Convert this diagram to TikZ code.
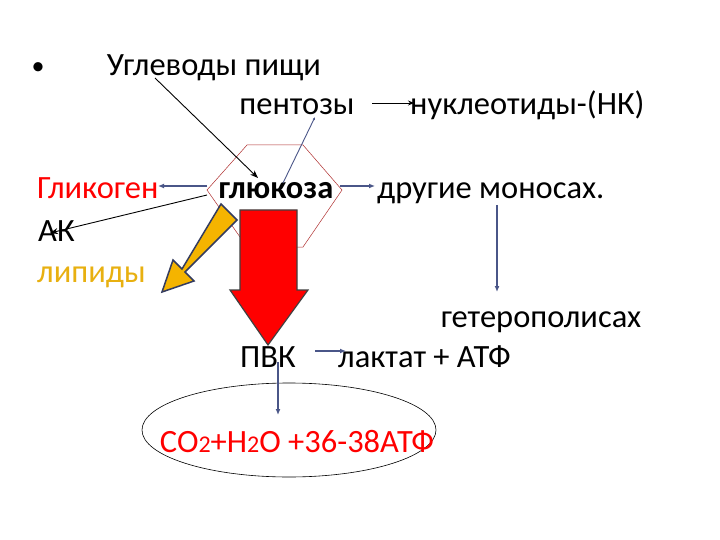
\documentclass[tikz,border=0pt]{standalone}
\usepackage{fontspec}
\setmainfont{Carlito}
\usetikzlibrary{arrows.meta,shapes.geometric}
\definecolor{conn}{HTML}{4A5688}
\definecolor{hexred}{HTML}{B03030}
\definecolor{lipid}{HTML}{E8B010}
\definecolor{ablk}{HTML}{F5B400}
\begin{document}
\begin{tikzpicture}[x=1pt,y=-1pt,
  txt/.style={font=\fontsize{32.5}{36}\selectfont, inner sep=0pt, anchor=base},
  txw/.style={txt, anchor=base west},
  bl/.style={conn, line width=2pt, -{Latex[length=6pt,width=5pt]}},
  blk/.style={black, line width=0.9pt, -{Stealth[length=8pt,width=6pt]}}]
\useasboundingbox (0,0) rectangle (720,540);
\fill[white] (0,0) rectangle (720,540);
% hexagon
\draw[hexred, line width=0.5pt] (247,145) -- (303,145) -- (342,190) -- (303,247) -- (247,247) -- (207,190) -- cycle;
\node[txt, font=\fontsize{26}{30}\selectfont] (bul) at (38,75) {•};
\node[txt] (ugl) at (214,76) {Углеводы пищи};
\node[txt] (pent) at (297,115) {пентозы};
\node[txw] (nuk) at (410,115) {нуклеотиды-(НК)};
\node[txw, text=red] (glik) at (37,199) {Гликоген};
\node[txt, font=\fontsize{32.5}{36}\selectfont\bfseries] (glu) at (276,199) {глюкоза};
\node[txw] (dr) at (377,199) {другие моносах.};
\node[txw] (ak) at (38,241) {АК};
\node[txw, text=lipid] (lip) at (37,282) {липиды};
\node[txt] (get) at (541,327) {гетерополисах};
\node[txt] (pvk) at (268,367) {ПВК};
\node[txw] (lak) at (338,367) {лактат + АТФ};
\node[draw, black, line width=0.6pt, ellipse, minimum width=294pt, minimum height=94pt] (ell) at (289,430) {};
\node[txt, text=red] (co) at (297,452) {CO{\fontsize{24}{24}\selectfont 2}+H{\fontsize{24}{24}\selectfont 2}O +36-38АТФ};
% block arrows
\draw[conn!70!black, line width=1.5pt, fill=ablk] (221,204) -- (237,220) -- (185,272) -- (194,281) -- (162,292) -- (173,260) -- (182,269) -- cycle;
\draw[darkgray, line width=1.2pt, fill=red] (240,210) -- (297,210) -- (297,290) -- (308,290) -- (268,345) -- (230,290) -- (240,290) -- cycle;
% connectors
\coordinate (c1) at (155,78); \coordinate (c2) at (258,178);
\draw[blk] (c1) -- (c2);
\coordinate (p1) at (283,183); \coordinate (p2) at (315,117);
\draw[conn, line width=0.9pt, -{Latex[length=3pt,width=2.5pt]}] (p1) -- (p2);
\coordinate (n1) at (372,103); \coordinate (n2) at (414,103);
\draw[black, line width=0.9pt, -{Stealth[length=6pt,width=5pt]}] (n1) -- (n2);
\coordinate (g1) at (207,186); \coordinate (g2) at (158,186);
\draw[bl] (g1) -- (g2);
\coordinate (d1) at (340,186); \coordinate (d2) at (375,186);
\draw[bl] (d1) -- (d2);
\coordinate (a1) at (207,195); \coordinate (a2) at (50,233);
\draw[blk] (a1) -- (a2);
\coordinate (h1) at (497,205); \coordinate (h2) at (497,292);
\draw[bl] (h1) -- (h2);
\coordinate (l1) at (315,351); \coordinate (l2) at (346,351);
\draw[bl] (l1) -- (l2);
\coordinate (v1) at (278,362); \coordinate (v2) at (278,415);
\draw[bl] (v1) -- (v2);
\end{tikzpicture}
\end{document}
